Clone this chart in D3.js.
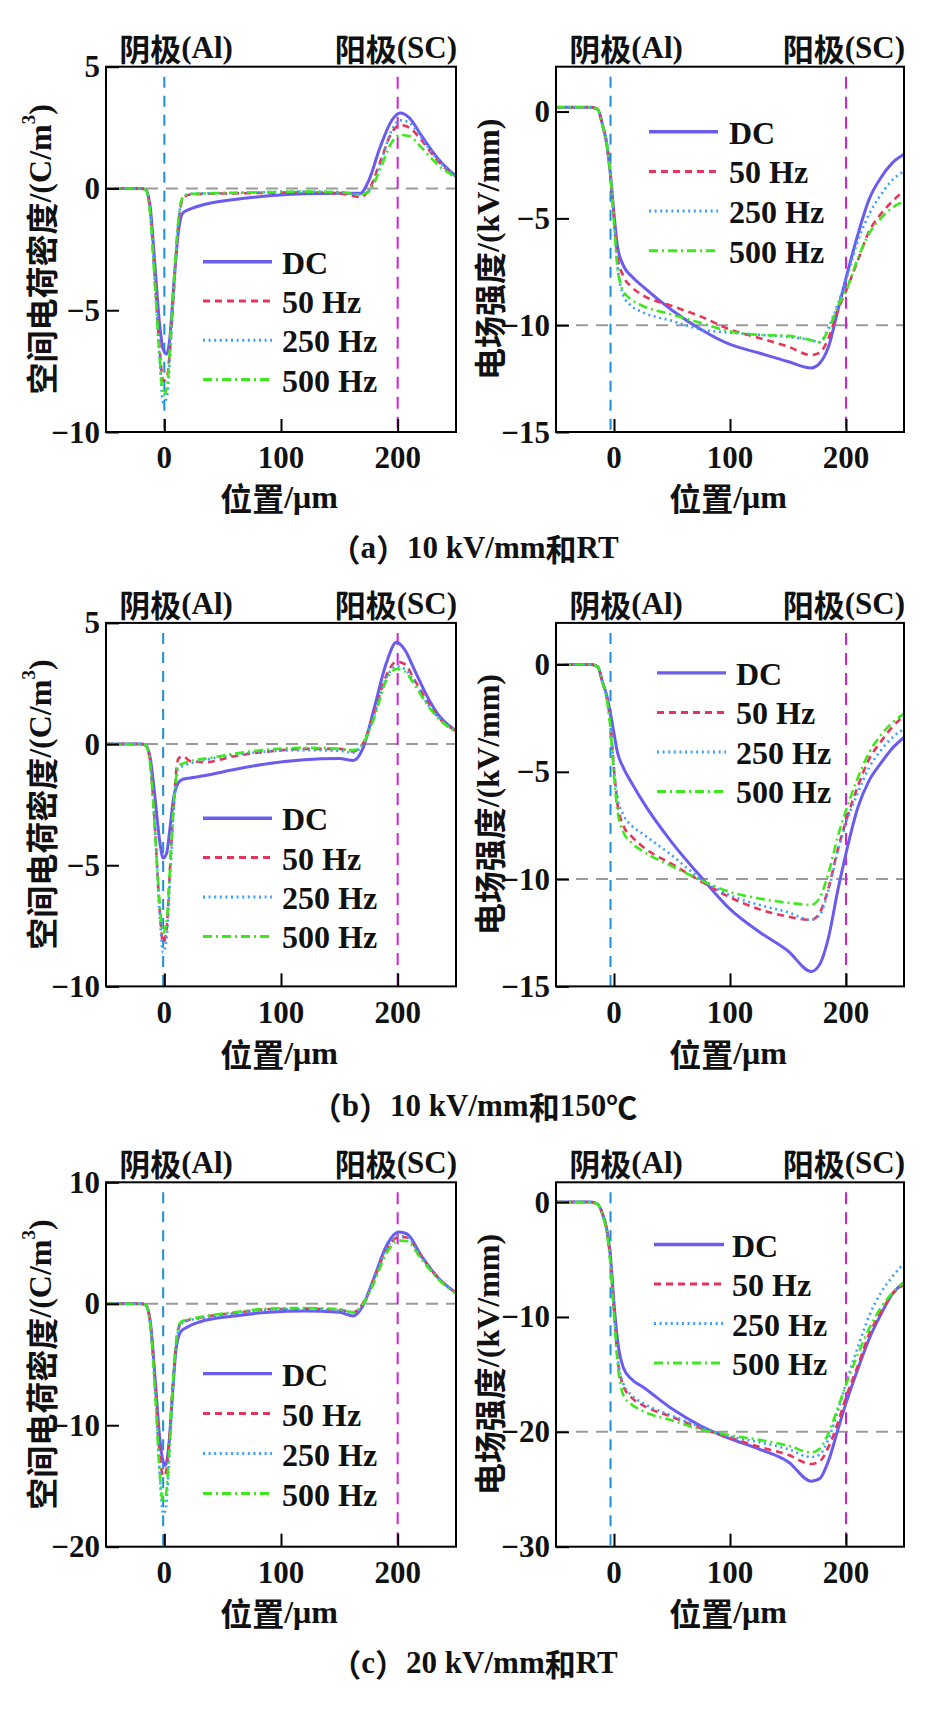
<!DOCTYPE html>
<html><head><meta charset="utf-8">
<script src="https://cdn.jsdelivr.net/npm/d3@7"></script>
<style>html,body{margin:0;padding:0;background:#fff;} svg{display:block;}</style>
</head><body>
<svg id="chart" width="925" height="1716"></svg>
<script>
// ---------------- DATA ----------------
const seriesNames = ["DC", "50 Hz", "250 Hz", "500 Hz"];
const xTicks = [0, 100, 200];
const yTicksRhoAB = [5, 0, -5, -10];
const yTicksEAB = [0, -5, -10, -15];
const yTicksRhoC = [10, 0, -10, -20];
const yTicksEC = [0, -10, -20, -30];
const captions = ["（a）10 kV/mm和RT", "（b）10 kV/mm和150℃", "（c）20 kV/mm和RT"];

// (a) space charge, 10 kV/mm RT
const posRhoA = [-50, -20, -16, -12, -8, -4, -1, 2, 5, 8, 12, 16, 22, 35, 60, 90, 120, 150, 168, 175, 185, 195, 202, 210, 220, 235, 250];
const rhoA_DC   = [0, 0, -0.05, -0.8, -3.2, -5.6, -6.6, -6.8, -6.0, -4.0, -1.8, -1.0, -0.85, -0.65, -0.45, -0.3, -0.22, -0.2, -0.2, 0.3, 1.7, 2.8, 3.1, 2.9, 2.2, 1.2, 0.5];
const rhoA_50   = [0, 0, -0.05, -1.0, -3.8, -6.6, -7.9, -7.8, -6.5, -4.3, -1.5, -0.4, -0.25, -0.22, -0.2, -0.18, -0.16, -0.2, -0.35, -0.1, 1.1, 2.3, 2.6, 2.5, 2.0, 1.1, 0.5];
const rhoA_250  = [0, 0, -0.05, -1.0, -3.9, -7.0, -8.8, -8.6, -6.8, -4.3, -1.4, -0.35, -0.22, -0.2, -0.18, -0.15, -0.13, -0.15, -0.25, -0.1, 1.0, 2.4, 2.8, 2.7, 2.1, 1.15, 0.5];
const rhoA_500  = [0, 0, -0.05, -1.1, -4.0, -6.9, -8.5, -8.2, -6.4, -4.0, -1.3, -0.35, -0.22, -0.2, -0.18, -0.15, -0.13, -0.15, -0.25, -0.15, 0.8, 1.9, 2.2, 2.15, 1.7, 0.95, 0.45];

// (a) electric field
const posEA = [-50, -20, -14, -10, -6, -3, 0, 3, 8, 15, 25, 50, 75, 100, 125, 150, 170, 177, 185, 193, 200, 210, 220, 230, 240, 250];
const eA_DC  = [0.2, 0.2, 0.1, -0.6, -1.6, -3.0, -4.8, -6.3, -7.2, -7.7, -8.2, -9.3, -10.2, -10.9, -11.3, -11.7, -12.0, -11.8, -11.0, -9.3, -7.8, -5.8, -4.1, -3.1, -2.4, -2.0];
const eA_50  = [0.2, 0.2, 0.1, -0.6, -1.6, -3.0, -5.0, -6.8, -7.7, -8.2, -8.6, -9.1, -9.6, -10.2, -10.6, -11.0, -11.4, -11.3, -10.6, -9.3, -8.4, -7.0, -5.6, -4.8, -4.2, -3.7];
const eA_250 = [0.2, 0.2, 0.1, -0.6, -1.6, -3.0, -5.2, -7.2, -8.6, -9.1, -9.4, -9.8, -10.2, -10.35, -10.45, -10.55, -10.7, -10.8, -10.1, -9.0, -7.9, -6.1, -4.8, -3.9, -3.2, -2.8];
const eA_500 = [0.2, 0.2, 0.1, -0.6, -1.6, -3.0, -5.2, -7.3, -8.4, -8.8, -9.1, -9.5, -9.9, -10.3, -10.45, -10.5, -10.7, -10.8, -10.2, -9.1, -8.4, -6.9, -5.7, -5.0, -4.5, -4.2];

// (b) space charge, 10 kV/mm 150 C
const posRhoB = [-50, -20, -16, -12, -8, -4, -1, 2, 5, 8, 12, 16, 22, 35, 60, 90, 120, 150, 162, 170, 180, 190, 199, 206, 215, 225, 235, 250];
const rhoB_DC  = [0, 0, -0.05, -0.6, -2.2, -4.0, -4.7, -4.5, -3.4, -2.2, -1.6, -1.45, -1.4, -1.3, -1.05, -0.8, -0.65, -0.6, -0.68, -0.2, 1.5, 3.3, 4.2, 3.9, 3.0, 2.0, 1.2, 0.55];
const rhoB_50  = [0, 0, -0.05, -0.8, -3.5, -6.8, -8.2, -7.6, -5.0, -2.5, -0.6, -0.5, -0.7, -0.75, -0.5, -0.3, -0.2, -0.2, -0.3, 0.0, 1.3, 2.8, 3.4, 3.3, 2.6, 1.8, 1.1, 0.55];
const rhoB_250 = [0, 0, -0.05, -0.8, -3.5, -7.0, -8.6, -8.0, -5.5, -2.8, -1.0, -0.9, -0.8, -0.65, -0.45, -0.3, -0.25, -0.28, -0.35, 0.0, 1.2, 2.7, 3.2, 3.1, 2.5, 1.7, 1.1, 0.55];
const rhoB_500 = [0, 0, -0.05, -0.9, -3.6, -6.6, -7.8, -7.3, -5.0, -2.5, -0.9, -0.8, -0.7, -0.6, -0.4, -0.22, -0.15, -0.2, -0.25, 0.0, 1.1, 2.6, 3.1, 3.0, 2.4, 1.65, 1.05, 0.5];

// (b) electric field
const posEB = [-50, -20, -14, -10, -6, -3, 0, 3, 8, 15, 25, 50, 75, 100, 125, 150, 170, 177, 185, 193, 200, 210, 220, 230, 240, 250];
const eB_DC  = [0, 0, -0.1, -0.8, -1.5, -2.3, -3.2, -4.1, -4.8, -5.5, -6.4, -8.3, -9.9, -11.4, -12.45, -13.35, -14.3, -14.0, -12.7, -10.5, -8.8, -6.7, -5.4, -4.6, -3.9, -3.4];
const eB_50  = [0, 0, -0.1, -0.8, -1.6, -2.8, -4.9, -6.5, -7.5, -8.0, -8.5, -9.3, -10.1, -10.85, -11.4, -11.75, -11.9, -11.6, -10.4, -8.6, -7.3, -5.7, -4.4, -3.6, -2.9, -2.4];
const eB_250 = [0, 0, -0.1, -0.8, -1.6, -2.8, -4.9, -6.2, -7.0, -7.5, -7.9, -8.9, -10.0, -10.75, -11.2, -11.55, -11.9, -11.7, -10.5, -8.7, -7.4, -6.0, -4.8, -4.0, -3.4, -3.0];
const eB_500 = [0, 0, -0.1, -0.8, -1.7, -3.0, -5.2, -6.8, -7.8, -8.3, -8.7, -9.4, -10.05, -10.6, -10.9, -11.1, -11.2, -10.9, -9.7, -8.0, -6.8, -5.3, -4.1, -3.3, -2.7, -2.3];

// (c) space charge, 20 kV/mm RT
const posRhoC = [-50, -20, -16, -12, -8, -4, -1, 1, 4, 7, 10, 14, 20, 30, 60, 90, 120, 150, 162, 170, 180, 190, 201, 208, 220, 235, 250];
const rhoC_DC  = [0, 0, -0.1, -1.5, -6.0, -11.0, -13.0, -13.3, -11.5, -7.5, -3.8, -2.3, -1.9, -1.5, -1.0, -0.7, -0.6, -0.7, -1.0, -0.2, 2.2, 4.7, 5.9, 5.75, 4.0, 2.1, 0.9];
const rhoC_50  = [0, 0, -0.1, -1.6, -6.5, -12.3, -14.2, -14.0, -11.5, -7.0, -3.3, -1.6, -1.35, -1.15, -0.75, -0.45, -0.4, -0.5, -0.7, 0.0, 2.1, 4.4, 5.5, 5.45, 3.9, 2.1, 0.9];
const rhoC_250 = [0, 0, -0.1, -1.7, -7.0, -14.0, -17.3, -17.0, -13.0, -7.5, -3.4, -1.7, -1.4, -1.2, -0.8, -0.5, -0.45, -0.55, -0.75, 0.0, 2.1, 4.5, 5.6, 5.5, 3.9, 2.1, 0.9];
const rhoC_500 = [0, 0, -0.1, -1.8, -7.2, -13.8, -16.4, -16.0, -12.5, -7.2, -3.2, -1.5, -1.3, -1.1, -0.7, -0.4, -0.35, -0.45, -0.7, -0.1, 1.8, 4.1, 5.2, 5.15, 3.7, 2.0, 0.85];

// (c) electric field
const posEC = [-50, -20, -14, -10, -6, -3, 0, 3, 8, 15, 25, 50, 75, 100, 125, 150, 170, 177, 185, 193, 200, 210, 220, 230, 240, 250];
const eC_DC  = [0, 0, -0.2, -1.0, -2.5, -4.8, -8.8, -12.0, -14.4, -15.4, -16.1, -18.0, -19.5, -20.6, -21.5, -22.6, -24.3, -24.1, -22.5, -19.8, -17.5, -14.6, -11.9, -9.8, -8.0, -7.0];
const eC_50  = [0, 0, -0.2, -1.0, -2.6, -5.2, -9.5, -13.5, -16.0, -17.0, -17.7, -18.7, -19.7, -20.5, -21.3, -22.0, -22.8, -22.6, -21.3, -19.2, -17.0, -14.3, -11.5, -9.6, -8.0, -7.2];
const eC_250 = [0, 0, -0.2, -1.0, -2.6, -5.2, -9.5, -13.4, -15.8, -16.8, -17.5, -18.6, -19.6, -20.4, -20.9, -21.5, -22.2, -22.0, -20.6, -18.2, -15.8, -12.7, -9.9, -7.9, -6.5, -5.3];
const eC_500 = [0, 0, -0.2, -1.1, -2.8, -5.5, -9.8, -13.9, -16.8, -17.6, -18.2, -19.0, -19.8, -20.3, -20.7, -21.2, -21.8, -21.5, -20.1, -17.9, -15.9, -13.3, -11.0, -9.2, -7.9, -7.0];

// ---------------- STYLE / LAYOUT ----------------
const LAT = "'Liberation Serif','Times New Roman',serif";
const CJK = "'Noto Sans CJK SC','Noto Sans CJK JP',sans-serif";
const colors = ["#6b5cf0", "#e8345a", "#3aa0ff", "#3de81d"];
const widths = [3, 2.6, 2.6, 2.6];
const dashes = [null, "7,5", "2,3.6", "9,4,2,4"];
const rows = [
  {y0: 66.7, y1: 432, tickLab: 457, xTitle: 497, cap: 547},
  {y0: 622.9, y1: 986.4, tickLab: 1012, xTitle: 1053, cap: 1105},
  {y0: 1182.3, y1: 1546.7, tickLab: 1572, xTitle: 1612, cap: 1662}
];
const cols = [{x0: 106, x1: 456, ylab: 40}, {x0: 556, x1: 904, ylab: 488}];

const panels = [
  {r:0,c:0,x:posRhoA,ys:[rhoA_DC,rhoA_50,rhoA_250,rhoA_500],yd:[-10,5],yt:yTicksRhoAB,ref:0,cath:0,kind:"rho",
   leg:{x0:203,x1:272,tx:282,y0:261.7,dy:39.3}},
  {r:0,c:1,x:posEA,ys:[eA_DC,eA_50,eA_250,eA_500],yd:[-15,2.1],yt:yTicksEAB,ref:-10,cath:-3,kind:"E",
   leg:{x0:649,x1:718,tx:729,y0:131.7,dy:39.7}},
  {r:1,c:0,x:posRhoB,ys:[rhoB_DC,rhoB_50,rhoB_250,rhoB_500],yd:[-10,5],yt:yTicksRhoAB,ref:0,cath:-1,kind:"rho",
   leg:{x0:203,x1:272,tx:282,y0:818.2,dy:39.4}},
  {r:1,c:1,x:posEB,ys:[eB_DC,eB_50,eB_250,eB_500],yd:[-15,1.94],yt:yTicksEAB,ref:-10,cath:-3,kind:"E",
   leg:{x0:657,x1:726,tx:736,y0:672.9,dy:39.5}},
  {r:2,c:0,x:posRhoC,ys:[rhoC_DC,rhoC_50,rhoC_250,rhoC_500],yd:[-20,10],yt:yTicksRhoC,ref:0,cath:-1,kind:"rho",
   leg:{x0:203,x1:272,tx:282,y0:1373.6,dy:40}},
  {r:2,c:1,x:posEC,ys:[eC_DC,eC_50,eC_250,eC_500],yd:[-30,1.72],yt:yTicksEC,ref:-20,cath:-3,kind:"E",
   leg:{x0:654,x1:724,tx:732,y0:1244.5,dy:39.5}}
];

const svg = d3.select("#chart");
svg.append("rect").attr("width",925).attr("height",1716).attr("fill","#fff");

const cjkRe = /[\u2E80-\u9FFF\uFF00-\uFFEF\u3000-\u303F\u2103]/;
function addRuns(t, str, size) {
  let runs = [], cur = "", curC = null;
  for (const ch of str) {
    const c = cjkRe.test(ch);
    if (curC === null || c === curC) { cur += ch; curC = c; }
    else { runs.push([cur, curC]); cur = ch; curC = c; }
  }
  if (cur) runs.push([cur, curC]);
  runs.forEach(([s, c]) => {
    t.append("tspan").text(s)
      .attr("font-family", c ? CJK : LAT)
      .attr("font-weight", "bold")
      .attr("font-size", size);
  });
  return t;
}
function mixedText(g, str, x, y, size, anchor) {
  const t = g.append("text").attr("x", x).attr("y", y)
    .attr("text-anchor", anchor || "middle").attr("dominant-baseline", "central").attr("fill", "#111");
  return addRuns(t, str, size);
}

panels.forEach((p, i) => {
  const R = rows[p.r], C = cols[p.c];
  const x = d3.scaleLinear().domain([-50, 250]).range([C.x0, C.x1]);
  const y = d3.scaleLinear().domain(p.yd).range([R.y1, R.y0]);
  const g = svg.append("g");
  const clipId = "clip" + i;
  g.append("clipPath").attr("id", clipId).append("rect")
    .attr("x", C.x0).attr("y", R.y0).attr("width", C.x1 - C.x0).attr("height", R.y1 - R.y0);
  const inner = g.append("g").attr("clip-path", `url(#${clipId})`);

  // reference lines
  inner.append("line").attr("x1", C.x0).attr("x2", C.x1).attr("y1", y(p.ref)).attr("y2", y(p.ref))
    .attr("stroke", "#9a9a9a").attr("stroke-width", 2).attr("stroke-dasharray", "12,8");
  inner.append("line").attr("x1", x(p.cath)).attr("x2", x(p.cath)).attr("y1", R.y0 + 10).attr("y2", R.y1)
    .attr("stroke", "#1b8fd6").attr("stroke-width", 2).attr("stroke-dasharray", "11,8");
  inner.append("line").attr("x1", x(200)).attr("x2", x(200)).attr("y1", R.y0 + 10).attr("y2", R.y1)
    .attr("stroke", "#d21fd8").attr("stroke-width", 2).attr("stroke-dasharray", "12,8");

  // curves
  const line = d3.line().x(d => x(d[0])).y(d => y(d[1])).curve(d3.curveMonotoneX);
  p.ys.forEach((vals, k) => {
    const pts = p.x.map((xv, j) => [xv, vals[j]]);
    inner.append("path").datum(pts).attr("d", line).attr("fill", "none")
      .attr("stroke", colors[k]).attr("stroke-width", widths[k])
      .attr("stroke-dasharray", dashes[k]).attr("stroke-linejoin", "round");
  });

  // axes (ticks inward)
  const xAxis = d3.axisBottom(x).tickValues(xTicks).tickSize(-13).tickPadding(8).tickFormat(d3.format("d"));
  const gx = g.append("g").attr("transform", `translate(0,${R.y1})`).call(xAxis);
  gx.select(".domain").remove();
  gx.selectAll(".tick line").attr("stroke", "#000").attr("stroke-width", 2);
  gx.selectAll(".tick text").remove();
  xTicks.forEach(v => {
    g.append("text").attr("x", x(v)).attr("y", R.tickLab).attr("text-anchor", "middle")
      .attr("dominant-baseline", "central").attr("font-family", LAT).attr("font-weight", "bold")
      .attr("font-size", 31).attr("fill", "#111").text(d3.format("d")(v));
  });
  const yAxis = d3.axisLeft(y).tickValues(p.yt).tickSize(-13);
  const gy = g.append("g").attr("transform", `translate(${C.x0},0)`).call(yAxis);
  gy.select(".domain").remove();
  gy.selectAll(".tick line").attr("stroke", "#000").attr("stroke-width", 2);
  gy.selectAll(".tick text").remove();
  p.yt.forEach(v => {
    g.append("text").attr("x", C.x0 - 6).attr("y", y(v)).attr("text-anchor", "end")
      .attr("dominant-baseline", "central").attr("font-family", LAT).attr("font-weight", "bold")
      .attr("font-size", 31).attr("fill", "#111").text(d3.format("d")(v));
  });

  // frame
  g.append("rect").attr("x", C.x0).attr("y", R.y0).attr("width", C.x1 - C.x0).attr("height", R.y1 - R.y0)
    .attr("fill", "none").attr("stroke", "#000").attr("stroke-width", 2);

  // electrode headers
  mixedText(g, "阴极(Al)", C.x0 + 70, R.y0 - 20, 31, "middle");
  mixedText(g, "阳极(SC)", C.x1 + 1, R.y0 - 20, 31, "end");

  // axis titles
  mixedText(g, "位置/μm", (C.x0 + C.x1) / 2 - 2, R.xTitle, 32, "middle");
  const cy = (R.y0 + R.y1) / 2;
  const yt = g.append("text").attr("transform", `translate(${C.ylab},${cy}) rotate(-90)`)
    .attr("text-anchor", "middle").attr("dominant-baseline", "central").attr("fill", "#111");
  if (p.kind === "rho") {
    addRuns(yt, "空间电荷密度/(C/m", 32);
    yt.append("tspan").text("3").attr("font-family", LAT).attr("font-weight", "bold")
      .attr("font-size", 19).attr("dy", -12);
    yt.append("tspan").text(")").attr("font-family", LAT).attr("font-weight", "bold")
      .attr("font-size", 32).attr("dy", 12);
  } else {
    addRuns(yt, "电场强度/(kV/mm)", 32);
  }

  // legend
  seriesNames.forEach((name, k) => {
    const ly = p.leg.y0 + k * p.leg.dy;
    g.append("line").attr("x1", p.leg.x0).attr("x2", p.leg.x1).attr("y1", ly).attr("y2", ly)
      .attr("stroke", colors[k]).attr("stroke-width", widths[k] + 0.4).attr("stroke-dasharray", dashes[k]);
    g.append("text").attr("x", p.leg.tx).attr("y", ly + 1).attr("dominant-baseline", "central")
      .attr("font-family", LAT).attr("font-weight", "bold").attr("font-size", 32).attr("fill", "#111").text(name);
  });
});

// captions
rows.forEach((R, i) => {
  mixedText(svg, captions[i], 474, R.cap, 31, "middle");
});
</script>
</body></html>
